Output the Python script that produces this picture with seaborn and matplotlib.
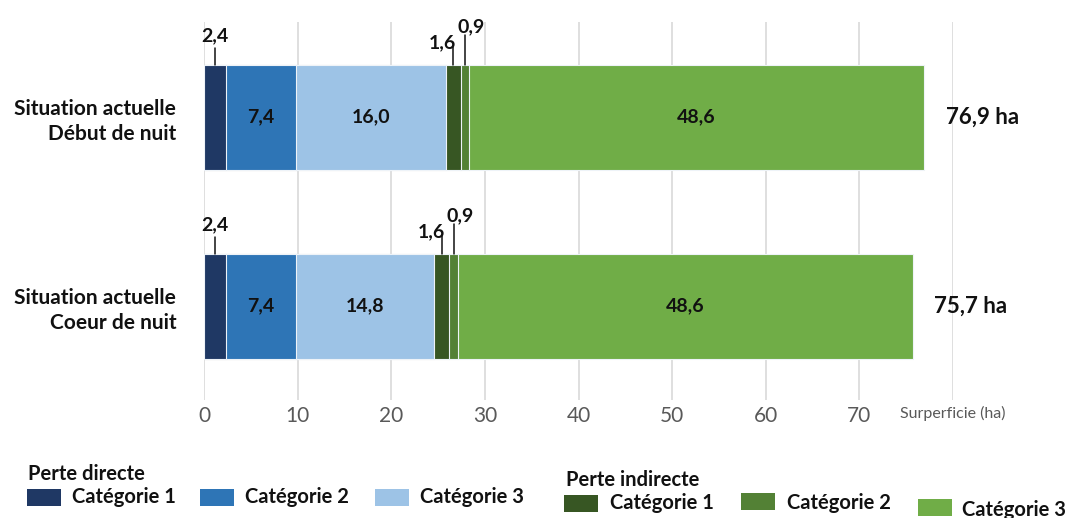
import matplotlib
matplotlib.use("Agg")
import matplotlib.pyplot as plt
from matplotlib.patches import Rectangle
import numpy as np
import pandas as pd
import seaborn as sns

# Data
scenarios = ["Situation actuelle\nDébut de nuit", "Situation actuelle\nCoeur de nuit"]
directe_cat1 = [2.4, 2.4]
directe_cat2 = [7.4, 7.4]
directe_cat3 = [16.0, 14.8]
indirecte_cat1 = [1.6, 1.6]
indirecte_cat2 = [0.9, 0.9]
indirecte_cat3 = [48.6, 48.6]
series_names = ["Catégorie 1", "Catégorie 2", "Catégorie 3",
                "Catégorie 1", "Catégorie 2", "Catégorie 3"]
colors = ["#1F3864", "#2E75B6", "#9DC3E6", "#375623", "#538135", "#70AD47"]
xticks = [0, 10, 20, 30, 40, 50, 60, 70, 80]
xtick_labels = ["0", "10", "20", "30", "40", "50", "60", "70", "Surperficie (ha)"]

series = [directe_cat1, directe_cat2, directe_cat3,
          indirecte_cat1, indirecte_cat2, indirecte_cat3]

sns.set_theme(style="white")
plt.rcParams["font.family"] = ["Lato", "DejaVu Sans"]

fig = plt.figure(figsize=(10.71, 5.18), dpi=100)
ax = fig.add_axes([204 / 1071, 118 / 518, (953 - 204) / 1071, 378 / 518])

vals = np.array(series)            # shape (6, 2)
cum = np.cumsum(vals, axis=0)      # right end of each segment
starts = cum - vals
totals = cum[-1]

BAR_H = 0.555
# stacked bars: draw cumulative totals from the outermost segment inward
for i in range(len(series) - 1, -1, -1):
    df = pd.DataFrame({"scenario": scenarios, "end": cum[i]})
    sns.barplot(data=df, x="end", y="scenario", orient="h", color=colors[i],
                width=BAR_H, saturation=1, edgecolor="#eef3f8", linewidth=0.8,
                ax=ax, zorder=3)

ax.set_xlim(0, 80)
ax.set_ylim(1.497, -0.503)
ax.set_xticks(xticks)
ax.set_xticklabels(xtick_labels)
ax.xaxis.grid(True, color="#d9d9d9", linewidth=1.2, zorder=0)
ax.yaxis.grid(False)
for s in ax.spines.values():
    s.set_visible(False)
ax.set_xlabel("")
ax.set_ylabel("")
ax.tick_params(axis="x", length=0, pad=4, labelsize=15, labelcolor="#595959")
ax.tick_params(axis="y", length=0, pad=20)
for lab in ax.get_xticklabels()[-1:]:
    lab.set_fontsize(11.5)
for lab in ax.get_yticklabels():
    lab.set_fontsize(15)
    lab.set_fontweight("bold")
    lab.set_color("#111111")
    lab.set_multialignment("right")
    lab.set_linespacing(1.3)

txt_kw = dict(fontsize=14, fontweight="bold", color="#111111")


def fmt(v):
    return f"{v:.1f}".replace(".", ",")


# small segments: (series index, text x shift, line top, text centre, alignment)
small = [(0, 0.0, -0.365, -0.429, "center"),
         (3, 0.3, -0.370, -0.392, "right"),
         (4, -0.75, -0.434, -0.476, "left")]

for j in range(len(scenarios)):
    top = j - BAR_H / 2
    # labels inside the wider segments
    for i in (1, 2, 5):
        ax.text(starts[i, j] + vals[i, j] / 2, j, fmt(vals[i, j]),
                ha="center", va="center", zorder=5, **txt_kw)
    # labels above the narrow segments, with leader lines
    for i, dx, ytop, ytxt, ha in small:
        xc = starts[i, j] + vals[i, j] / 2
        ax.plot([xc, xc], [top, ytop + j], color="#111111", lw=1.1, zorder=5,
                clip_on=False)
        ax.text(xc + dx, ytxt + j, fmt(vals[i, j]),
                ha=ha, va="center", zorder=5, clip_on=False, **txt_kw)
    # total area to the right of the bar
    ax.text(totals[j] + 2.3, j, fmt(totals[j]) + " ha",
            ha="left", va="center", fontsize=16, fontweight="bold",
            color="#111111", clip_on=False)

# legend drawn in figure pixels
W, H = 1071, 518


def fx(px):
    return px / W


def fy(py):
    return (H - py) / H


leg_kw = dict(fontsize=14.5, fontweight="bold", color="#111111", va="center", ha="left")
fig.text(fx(28), fy(474), "Perte directe", **leg_kw)
fig.text(fx(566), fy(480), "Perte indirecte", **leg_kw)
entries = [(27, 497, 72, 497), (200, 497, 245, 497), (375, 497, 420, 497),
           (564, 503, 610, 503), (741, 501, 787, 503), (918, 507, 962, 510)]
for k, (px, py, tx, ty) in enumerate(entries):
    fig.patches.append(Rectangle((fx(px), fy(py + 8.5)), 34 / W, 17 / H,
                                 transform=fig.transFigure, facecolor=colors[k],
                                 edgecolor="none"))
    fig.text(fx(tx), fy(ty), series_names[k], **leg_kw)

fig.savefig("out.png", dpi=100)
